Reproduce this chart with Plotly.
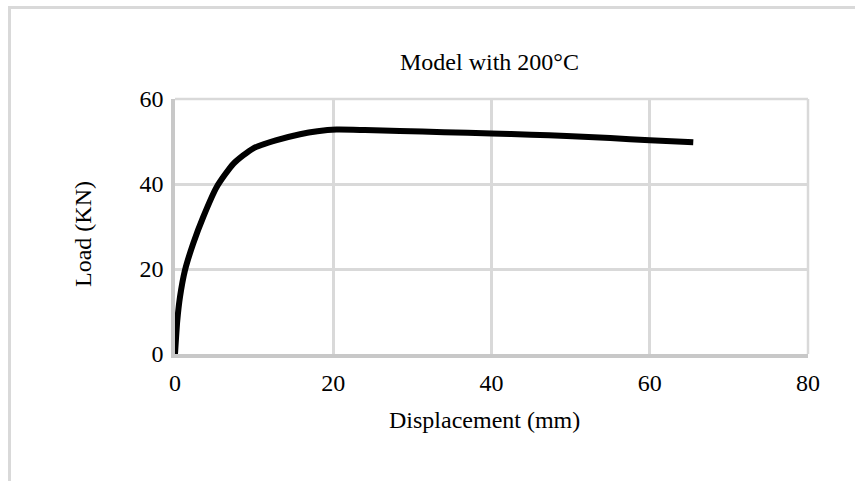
import plotly.graph_objects as go

displacement = [0, 0.29, 0.63, 1.26, 2.3, 3.58, 5.27, 7.4, 9.9, 12.85, 15.8, 18.0, 20.4, 24.0, 28.4, 34.0, 40.0, 45.0, 49.5, 55.0, 60.0, 65.5]
load = [0, 7.9, 13.4, 19.7, 26.0, 32.3, 39.3, 44.8, 48.4, 50.3, 51.7, 52.4, 52.8, 52.7, 52.5, 52.2, 51.9, 51.6, 51.3, 50.8, 50.3, 49.8]

x_ticks = [0, 20, 40, 60, 80]
y_ticks = [0, 20, 40, 60]

FONT = "Liberation Serif, Times New Roman, serif"
FS = 24

L, R, T, B = 175, 47, 99, 127
W, H = 855, 481
PW, PH = W - L - R, H - T - B

def px(x):
    return (x - L) / PW

def py(y):
    return (H - B - y) / PH

fig = go.Figure()
fig.add_trace(go.Scatter(
    x=displacement, y=load, mode="lines",
    line=dict(color="black", width=6, shape="spline", smoothing=0.6),
    showlegend=False, hoverinfo="skip",
))

GRID = "#d9d9d9"
fig.update_layout(
    width=W, height=H,
    margin=dict(l=L, r=R, t=T, b=B, pad=0),
    paper_bgcolor="white", plot_bgcolor="white",
    font=dict(family=FONT, size=FS, color="black"),
    xaxis=dict(range=[0, 80], tickvals=x_ticks, showgrid=True, gridcolor=GRID, gridwidth=2.5,
               zeroline=False, showline=True, linecolor="#c8c8c8", linewidth=3.5,
               ticks="", ticklabelstandoff=4, tickfont=dict(family=FONT, size=FS, color="black")),
    yaxis=dict(range=[0, 60], tickvals=y_ticks, showgrid=True, gridcolor=GRID, gridwidth=2.5,
               zeroline=False, showline=True, linecolor="#c8c8c8", linewidth=3.5,
               ticks="", ticklabelstandoff=3, tickfont=dict(family=FONT, size=FS, color="black")),
    shapes=[
        dict(type="rect", xref="paper", yref="paper",
             x0=px(9.5), x1=px(900), y0=py(600), y1=py(7.5),
             line=dict(color=GRID, width=3), fillcolor="rgba(0,0,0,0)", layer="below"),
        dict(type="line", xref="paper", yref="paper", x0=0, x1=1, y0=1, y1=1,
             line=dict(color=GRID, width=2.5), layer="below"),
        dict(type="line", xref="paper", yref="paper", x0=1, x1=1, y0=0, y1=1,
             line=dict(color=GRID, width=2.5), layer="below"),
    ],
    annotations=[
        dict(text="Model with 200°C", xref="paper", yref="paper", x=px(489), y=py(62),
             xanchor="center", yanchor="middle", showarrow=False, font=dict(family=FONT, size=FS)),
        dict(text="Displacement (mm)", xref="paper", yref="paper", x=px(484), y=py(420),
             xanchor="center", yanchor="middle", showarrow=False, font=dict(family=FONT, size=FS)),
        dict(text="Load (KN)", xref="paper", yref="paper", x=px(83), y=py(234),
             xanchor="center", yanchor="middle", showarrow=False, textangle=-90,
             font=dict(family=FONT, size=FS)),
    ],
)

fig.write_html("out.html")
